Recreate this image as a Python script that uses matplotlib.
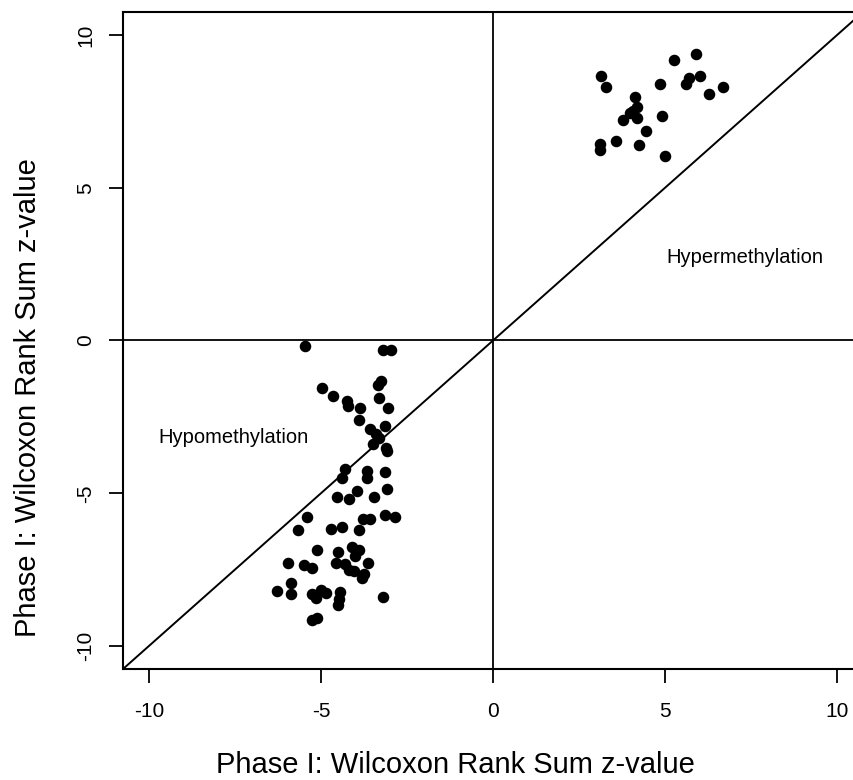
import matplotlib
matplotlib.use("Agg")
import matplotlib.pyplot as plt
import numpy as np

plt.rcParams['font.family'] = ['Liberation Sans', 'DejaVu Sans']

# Hypermethylated CpG sites (upper-right cluster)
hyper_x = [5.89, 5.27, 3.13, 3.28, 4.86, 5.69, 5.62, 6.01, 6.28, 6.69,
           4.13, 4.18, 3.98, 4.18, 3.79, 4.06, 4.90, 4.45, 3.57, 4.25,
           3.11, 3.11, 5.01]
hyper_y = [9.38, 9.19, 8.64, 8.31, 8.39, 8.58, 8.39, 8.64, 8.08, 8.31,
           7.97, 7.64, 7.46, 7.29, 7.21, 7.51, 7.35, 6.84, 6.52, 6.40,
           6.42, 6.23, 6.04]

# Hypomethylated CpG sites (lower-left cluster)
hypo_x = [-5.47, -3.19, -2.96, -3.26, -3.35, -4.98, -4.65, -4.23, -4.20, -3.30,
          -3.86, -3.06, -3.89, -3.58, -3.13, -3.30, -3.50, -3.11, -3.40, -3.08,
          -4.29, -4.39, -3.67, -3.67, -3.13, -3.07, -4.52, -4.18, -3.96, -3.45,
          -5.39, -5.66, -4.71, -4.40, -3.89, -3.79, -3.58, -3.13, -2.84,
          -5.12, -4.49, -4.10, -3.89, -4.00, -5.96, -5.49, -5.27, -4.57, -4.29,
          -4.18, -4.03, -3.64, -3.76, -3.81, -5.88, -5.88, -6.29, -5.27, -5.15,
          -5.01, -4.86, -4.45, -4.47, -4.49, -3.19, -5.27, -5.10]
hypo_y = [-0.18, -0.32, -0.32, -1.33, -1.46, -1.57, -1.82, -1.98, -2.14, -1.87,
          -2.20, -2.20, -2.61, -2.91, -2.80, -3.18, -3.40, -3.51, -3.07, -3.62,
          -4.22, -4.49, -4.27, -4.49, -4.29, -4.85, -5.11, -5.18, -4.93, -5.11,
          -5.78, -6.21, -6.16, -6.10, -6.21, -5.85, -5.85, -5.71, -5.78,
          -6.84, -6.91, -6.75, -6.84, -7.05, -7.27, -7.35, -7.46, -7.27, -7.33,
          -7.52, -7.55, -7.27, -7.63, -7.78, -7.93, -8.31, -8.20, -8.29, -8.44,
          -8.18, -8.26, -8.22, -8.47, -8.64, -8.40, -9.15, -9.07]

x_ticks = [-10, -5, 0, 5, 10]
y_ticks = [-10, -5, 0, 5, 10]
axis_title = "Phase I: Wilcoxon Rank Sum z-value"

fig = plt.figure(figsize=(8.54, 7.8), dpi=100)
ax = fig.add_axes([123/854, 1 - 669/780, 740/854, 657/780])
lim = 10.75
ax.set_xlim(-lim, lim)
ax.set_ylim(-lim, lim)

ax.axhline(0, color='black', lw=1.3, zorder=1)
ax.axvline(0, color='black', lw=1.3, zorder=1)
ax.plot([-lim, lim], [-lim, lim], color='black', lw=1.4, zorder=1)

ax.plot(hyper_x, hyper_y, 'o', color='black', markersize=7.3, zorder=3)
ax.plot(hypo_x, hypo_y, 'o', color='black', markersize=7.3, zorder=3)

ax.text(7.33, 2.73, "Hypermethylation", fontsize=14.5, ha='center', va='center')
ax.text(-7.55, -3.19, "Hypomethylation", fontsize=14.5, ha='center', va='center')

ax.set_xticks(x_ticks)
ax.set_yticks(y_ticks)
ax.set_xticklabels([str(t) for t in x_ticks])
ax.set_yticklabels([str(t) for t in y_ticks], rotation=90, va='center')
ax.tick_params(axis='both', direction='out', length=10, width=1.3, labelsize=15, colors='black')
ax.tick_params(axis='x', pad=14)
ax.tick_params(axis='y', pad=10)
for s in ax.spines.values():
    s.set_linewidth(1.5)

fig.text(455.5/854, 1 - 765/780, axis_title, fontsize=21, ha='center', va='center')
fig.text(28/854, 1 - 398/780, axis_title, fontsize=21, ha='center', va='center', rotation=90)

fig.savefig("out.png", dpi=100)
